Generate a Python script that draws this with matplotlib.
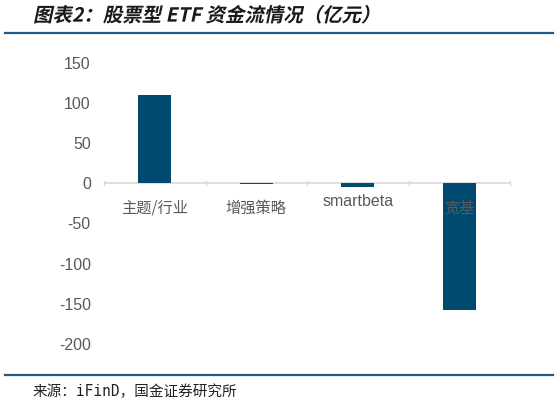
import matplotlib
matplotlib.use("Agg")
import matplotlib.pyplot as plt
from matplotlib.patheffects import AbstractPathEffect
from matplotlib.transforms import Affine2D
from matplotlib.lines import Line2D

plt.rcParams['font.family'] = ['Noto Sans CJK SC', 'DejaVu Sans']

categories = ['主题/行业', '增强策略', 'smartbeta', '宽基']
values = [110, -1.5, -5, -159]
yticks = [150, 100, 50, 0, -50, -100, -150, -200]

title = '图表2：股票型 ETF 资金流情况（亿元）'
source = '来源：iFinD，国金证券研究所'

BAR = '#004a70'
TXT = '#595959'
RULE = '#1f5a84'
LATIN = ['Liberation Sans', 'DejaVu Sans']


class Skew(AbstractPathEffect):
    def __init__(self, deg=12):
        super().__init__()
        self.deg = deg

    def draw_path(self, renderer, gc, tpath, affine, rgbFace=None):
        renderer.draw_path(gc, tpath, Affine2D().skew_deg(self.deg, 0) + affine, rgbFace)


fig = plt.figure(figsize=(5.59, 4.06), dpi=100)
W, H = 559, 406
ax = fig.add_axes([104 / W, 1 - 343.5 / H, (510 - 104) / W, (343.5 - 63.5) / H])

x = list(range(len(categories)))
ax.bar(x, values, width=0.33, color=BAR, zorder=3)
ax.set_xlim(-0.5, len(categories) - 0.5)
ax.set_ylim(-200, 150)

for s in ax.spines.values():
    s.set_visible(False)
ax.axhline(0, color='#d9d9d9', lw=1.2, zorder=2)
for b in [i - 0.5 for i in range(len(categories) + 1)]:
    ax.plot([b, b], [-2.5, 2.5], color='#d9d9d9', lw=1.0, zorder=2, clip_on=False)

ax.set_xticks([])
ax.set_yticks(yticks)
ax.set_yticklabels([str(v) for v in yticks], fontsize=11.5, color=TXT, family=LATIN)
ax.tick_params(axis='y', length=0, pad=9.5)

for i, c in enumerate(categories):
    dy = -22.5 if c == 'smartbeta' else -30.5
    ax.text(i, dy, c, ha='center', va='center', fontsize=11.5 if c == 'smartbeta' else 11,
            color=TXT,
            family=LATIN if c == 'smartbeta' else ['Noto Sans CJK SC', 'DejaVu Sans'],
            zorder=4)

fig.text(33 / W, 1 - 17 / H, title, ha='left', va='center', fontsize=14, fontweight='bold',
         color='#1a1a1a', path_effects=[Skew(12)])
fig.add_artist(Line2D([5 / W, 553 / W], [1 - 34 / H, 1 - 34 / H], color=RULE, lw=1.6))
fig.add_artist(Line2D([5 / W, 553 / W], [1 - 376 / H, 1 - 376 / H], color=RULE, lw=1.6))
fig.text(33 / W, 1 - 392 / H, source, ha='left', va='center', fontsize=10.5, color='#222222',
         family=['DejaVu Sans Mono', 'Noto Sans CJK SC'])

fig.savefig('out.png', dpi=100)
